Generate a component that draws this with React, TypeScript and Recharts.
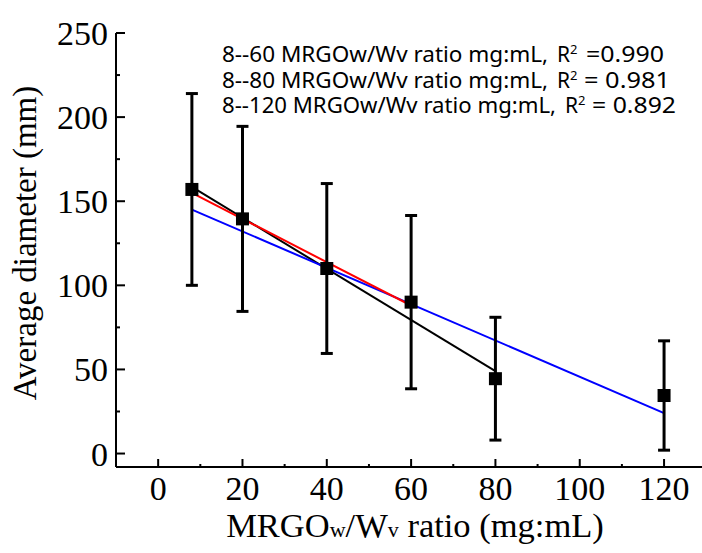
import React from 'react';
import { ComposedChart, XAxis, YAxis, Scatter, ErrorBar, Line } from 'recharts';

// measured points (MRGO w/v ratio vs average diameter)
const ratios = [8, 20, 40, 60, 80, 120];
const diameters = [157, 139.5, 110, 90, 44.5, 34.5];
const errors = [57, 55, 50.5, 51.5, 36.5, 32.5];

// linear fit end points
const fit60 = [{ x: 8, y: 155 }, { x: 60, y: 88 }];
const fit80 = [{ x: 8, y: 158.5 }, { x: 80, y: 49 }];
const fit120 = [{ x: 8, y: 145 }, { x: 120, y: 24 }];

const xTicks = [0, 10, 20, 30, 40, 50, 60, 70, 80, 90, 100, 110, 120];
const yTicks = [0, 25, 50, 75, 100, 125, 150, 175, 200, 225, 250];

const fitLabels = ['8--60 MRGOw/Wv ratio mg:mL,', '8--80 MRGOw/Wv ratio mg:mL,', '8--120 MRGOw/Wv ratio mg:mL,'];
const fitR2 = ['=0.990', '= 0.981', '= 0.892'];

const points = ratios.map((x, i) => ({ x, y: diameters[i], err: errors[i] }));

const serif = '"Liberation Serif", "Times New Roman", serif';
const sans = '"Noto Sans", "Open Sans", sans-serif';

const XTick = (p: any) => {
  const major = p.payload.value % 20 === 0;
  return (
    <g>
      <line x1={p.x} x2={p.x} y1={p.y} y2={p.y - (major ? 8 : 3)} stroke="#000" strokeWidth={2} />
      {major && (
        <text x={p.x} y={p.y + 33} textAnchor="middle" fontFamily={serif} fontSize={34} fill="#000">
          {p.payload.value}
        </text>
      )}
    </g>
  );
};

const TopTick = (p: any) => (
  <line x1={p.x} x2={p.x} y1={p.y} y2={p.y + 3} stroke="#000" strokeWidth={1.5} />
);

const YTick = (p: any) => {
  const major = p.payload.value % 50 === 0;
  return (
    <g>
      <line x1={p.x} x2={p.x + (major ? 9 : 4)} y1={p.y} y2={p.y} stroke="#000" strokeWidth={2} />
      {major && (
        <text x={p.x - 8} y={p.y + 12} textAnchor="end" fontFamily={serif} fontSize={34} fill="#000">
          {p.payload.value}
        </text>
      )}
    </g>
  );
};

const Square = (p: any) => <rect x={p.cx - 6.5} y={p.cy - 6.5} width={13} height={13} fill="#000" />;

export default function App() {
  const labelY = [62, 87.5, 113];
  const labelEnd = [548, 548, 556];
  const valueStart = [586, 584, 592];
  const valueEnd = [664, 670, 676];
  return (
    <div style={{ position: 'absolute', left: 0, top: 0 }}>
      <ComposedChart width={702} height={553} margin={{ top: 33, right: 0, bottom: 0, left: 0 }}>
        <XAxis
          dataKey="x"
          type="number"
          domain={[-10, 129]}
          allowDataOverflow
          ticks={xTicks}
          interval={0}
          height={86}
          tickSize={0}
          tickMargin={0}
          tickLine={false}
          axisLine={{ stroke: '#000', strokeWidth: 2 }}
          tick={XTick}
        />
        <XAxis
          xAxisId="top"
          orientation="top"
          type="number"
          domain={[-10, 129]}
          allowDataOverflow
          ticks={xTicks}
          interval={0}
          height={0}
          tickSize={0}
          tickMargin={0}
          tickLine={false}
          axisLine={{ stroke: '#000', strokeWidth: 2 }}
          tick={TopTick}
        />
        <YAxis
          type="number"
          domain={[-8, 250]}
          allowDataOverflow
          ticks={yTicks}
          interval={0}
          width={116}
          tickSize={0}
          tickMargin={0}
          tickLine={false}
          axisLine={{ stroke: '#000', strokeWidth: 2 }}
          tick={YTick}
        />
        <Line data={fit80} dataKey="y" stroke="#000" strokeWidth={2} dot={false} isAnimationActive={false} />
        <Line data={fit120} dataKey="y" stroke="#0000ff" strokeWidth={2} dot={false} isAnimationActive={false} />
        <Line data={fit60} dataKey="y" stroke="#ff0000" strokeWidth={2} dot={false} isAnimationActive={false} />
        <Scatter data={points} dataKey="y" shape={Square} isAnimationActive={false}>
          <ErrorBar dataKey="err" direction="y" width={6} stroke="#000" strokeWidth={3} isAnimationActive={false} />
        </Scatter>

        {fitLabels.map((t, i) => (
          <g key={t}>
            <text x={222} y={labelY[i]} fontFamily={sans} fontSize={21} fill="#000" textLength={labelEnd[i] - 222} lengthAdjust="spacingAndGlyphs">
              {t}
            </text>
            <text x={labelEnd[i] + 9} y={labelY[i]} fontFamily={sans} fontSize={21} fill="#000">
              R<tspan fontSize={13} dy={-8}>2</tspan>
            </text>
            <text x={valueStart[i]} y={labelY[i]} fontFamily={sans} fontSize={21} fill="#000" textLength={valueEnd[i] - valueStart[i]} lengthAdjust="spacingAndGlyphs">
              {fitR2[i]}
            </text>
          </g>
        ))}

        <text x={415} y={537} textAnchor="middle" fontFamily={serif} fontSize={34.5} fill="#000">
          MRGO<tspan fontSize={22}>w</tspan>/W<tspan fontSize={22}>v</tspan> ratio (mg:mL)
        </text>
        <text x={36} y={243} transform="rotate(-90 36 243)" textAnchor="middle" fontFamily={serif} fontSize={33} fill="#000">
          Average diameter (mm)
        </text>
      </ComposedChart>
    </div>
  );
}
